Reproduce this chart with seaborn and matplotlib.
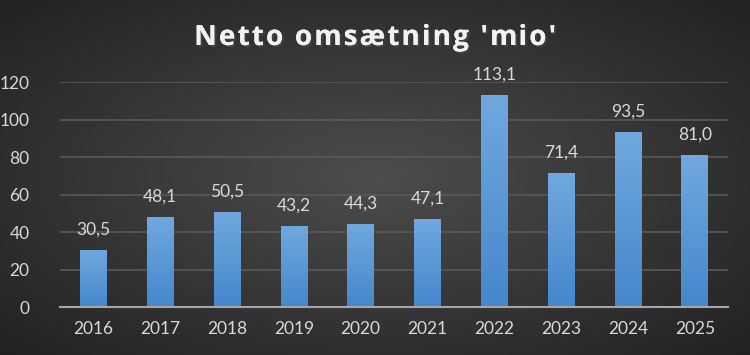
import numpy as np
import pandas as pd
import matplotlib.pyplot as plt
import matplotlib.patheffects as pe
import seaborn as sns

years = ["2016", "2017", "2018", "2019", "2020", "2021", "2022", "2023", "2024", "2025"]
omsaetning = [30.5, 48.1, 50.5, 43.2, 44.3, 47.1, 113.1, 71.4, 93.5, 81.0]
yticks = [0, 20, 40, 60, 80, 100, 120]
title = "Netto omsætning 'mio'"

df = pd.DataFrame({"aar": years, "mio": omsaetning})

sns.set_theme(style="dark")
plt.rcParams["font.family"] = ["Lato", "DejaVu Sans"]

fig = plt.figure(figsize=(7.5, 3.55), dpi=100)

# radial gradient background
bg = fig.add_axes([0, 0, 1, 1], zorder=0)
gx, gy = np.meshgrid(np.linspace(-1, 1, 300), np.linspace(-1, 1, 150))
r = np.sqrt(gx ** 2 + gy ** 2) / np.sqrt(2)
shade = 0.30 - 0.17 * r
bg.imshow(np.dstack([shade, shade, shade]), aspect="auto", extent=[0, 1, 0, 1])
bg.axis("off")

ax = fig.add_axes([0.08, 0.135, 0.891, 0.634], zorder=1)
ax.patch.set_alpha(0)
sns.barplot(data=df, x="aar", y="mio", color="#5b9bd5", width=0.4, ax=ax, saturation=1)

# vertical gradient in the bars
grad = np.linspace(0, 1, 100).reshape(-1, 1)
top = np.array([0.44, 0.66, 0.87])
bot = np.array([0.27, 0.53, 0.80])
cols = top + (bot - top) * grad
img = np.dstack([cols[:, 0:1], cols[:, 1:2], cols[:, 2:3]])
for p, v in zip(ax.patches, omsaetning):
    x0, w, h = p.get_x(), p.get_width(), p.get_height()
    im = ax.imshow(img, aspect="auto", extent=[x0, x0 + w, 0, h], zorder=2)
    im.set_clip_path(p)
    p.set_edgecolor("none")
    ax.annotate(f"{v:.1f}".replace(".", ","), (x0 + w / 2, h), xytext=(0, 9),
                textcoords="offset points", ha="center", va="bottom",
                fontsize=12.5, color="#d9d9d9")

ax.set_xlim(-0.5, len(years) - 0.5)
ax.set_ylim(0, 120)
ax.set_yticks(yticks)
ax.set_xlabel("")
ax.set_ylabel("")
ax.grid(axis="y", color="#595959", linewidth=1.2)
ax.set_axisbelow(True)
for s in ["top", "right", "left"]:
    ax.spines[s].set_visible(False)
ax.spines["bottom"].set_color("#a6a6a6")
ax.spines["bottom"].set_linewidth(1.5)
ax.spines["bottom"].set_zorder(3)
ax.tick_params(axis="both", colors="#d9d9d9", labelsize=12.5, length=0)
ax.tick_params(axis="x", pad=10)
ax.tick_params(axis="y", pad=22)
for t in ax.get_yticklabels():
    t.set_ha("right")

# title drawn letter by letter to get the wide tracking of the original
kw = dict(fontsize=20, fontweight="bold", color="#f2f2f2", va="baseline",
          family=["Open Sans", "DejaVu Sans"],
          path_effects=[pe.withSimplePatchShadow(offset=(1.5, -1.5), alpha=0.6), pe.Normal()])
renderer = fig.canvas.get_renderer()
spacing = 2.2  # px between letters
widths = []
for i in range(len(title)):
    # advance = width(prefix incl. char) - width(prefix) keeps kerning
    t1 = fig.text(0, 0, title[: i + 1], **kw)
    w1 = t1.get_window_extent(renderer).width if title[: i + 1].strip() else 0
    t1.remove()
    widths.append(w1)
adv = np.diff([0] + widths)
total = widths[-1] + spacing * (len(title) - 1)
x = 375 - total / 2
for ch, a in zip(title, adv):
    if ch != " ":
        fig.text(x / 750, 1 - 45 / 355, ch, ha="left", **kw)
    x += a + spacing

fig.savefig("out.png", dpi=100)
